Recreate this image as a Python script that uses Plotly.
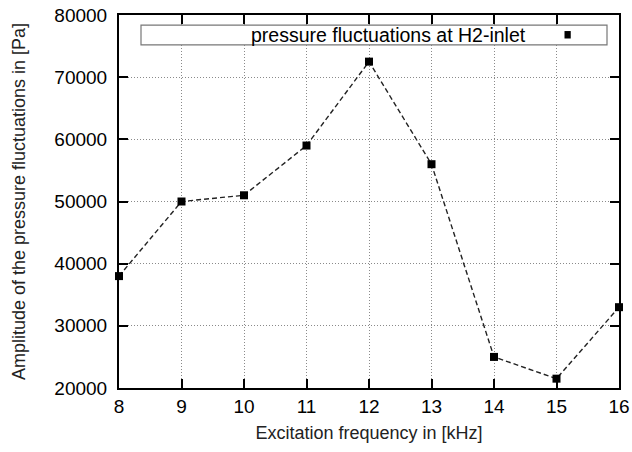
import plotly.graph_objects as go

# Excitation frequency [kHz] and measured pressure fluctuation amplitude [Pa]
freq_khz = [8, 9, 10, 11, 12, 13, 14, 15, 16]
amplitude_pa = [38000, 50000, 51000, 59000, 72500, 56000, 25000, 21500, 33000]

x_ticks = [8, 9, 10, 11, 12, 13, 14, 15, 16]
y_ticks = [20000, 30000, 40000, 50000, 60000, 70000, 80000]
series_name = "pressure fluctuations at H2-inlet"

FONT = "Liberation Sans, Arial, Helvetica, sans-serif"

fig = go.Figure()
fig.add_trace(go.Scatter(
    x=freq_khz, y=amplitude_pa, mode="lines+markers", name=series_name,
    line=dict(color="#222222", width=1.4, dash="5px,3px"),
    marker=dict(symbol="square", size=8, color="black"),
    cliponaxis=False, showlegend=False,
))

axis_common = dict(
    showline=True, linecolor="black", linewidth=2, mirror="allticks",
    ticks="inside", ticklen=9, tickwidth=1.5, tickcolor="black",
    showgrid=True, gridcolor="#8a8a8a", gridwidth=1, griddash="1px,2px",
    zeroline=False, automargin=False,
    tickfont=dict(family=FONT, size=19, color="black"),
)

fig.update_xaxes(
    range=[8, 16], tickvals=x_ticks, ticktext=[str(v) for v in x_ticks],
    title=dict(text="Excitation frequency in [kHz]", standoff=11,
               font=dict(family=FONT, size=18, color="#222222")),
    **axis_common,
)
fig.update_yaxes(
    range=[20000, 80000], tickvals=y_ticks, ticktext=[str(v) for v in y_ticks],
    ticklabelstandoff=6,
    title=dict(text="Amplitude of the pressure fluctuations in [Pa]", standoff=24,
               font=dict(family=FONT, size=18, color="#222222")),
    **axis_common,
)

# Key box with label on the left and marker sample on the right
fig.add_shape(type="rect", xref="paper", yref="paper",
              x0=0.044, x1=0.976, y0=0.920, y1=0.973,
              line=dict(color="#777777", width=1.2), fillcolor="white")
fig.add_annotation(xref="paper", yref="paper", x=0.818, y=0.947,
                   text=series_name, showarrow=False, xanchor="right", yanchor="middle",
                   font=dict(family=FONT, size=19.5, color="black"))
fig.add_shape(type="rect", xref="paper", yref="paper",
              x0=0.891, x1=0.9035, y0=0.937, y1=0.957,
              line=dict(color="black", width=0), fillcolor="black")

fig.update_layout(
    width=632, height=452,
    margin=dict(l=119, r=13, t=15, b=64),
    paper_bgcolor="white", plot_bgcolor="white",
    showlegend=False,
)

fig.write_html("out.html")
